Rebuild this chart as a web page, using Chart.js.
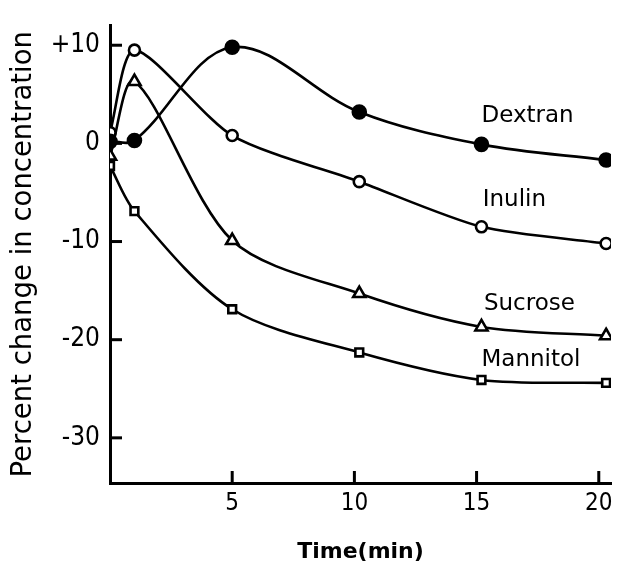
<!DOCTYPE html>
<html><head><meta charset="utf-8">
<script src="https://cdn.jsdelivr.net/npm/chart.js@4"></script>
<style>html,body{margin:0;padding:0;background:#fff}canvas{display:block}</style>
</head><body>
<canvas id="c" width="621" height="561"></canvas>
<script>
// Data
const times = [0, 1, 5, 10.2, 15.2, 20.3];
const dextran = [0.2, 0.3, 9.8, 3.2, -0.1, -1.7];
const inulin = [1.1, 9.5, 0.8, -3.9, -8.5, -10.2];
const sucrose = [-1.3, 6.3, -9.9, -15.3, -18.7, -19.6];
const mannitol = [-2.3, -6.9, -16.9, -21.3, -24.1, -24.4];
const seriesNames = ['Dextran', 'Inulin', 'Sucrose', 'Mannitol'];
const xTicks = [5, 10, 15, 20];
const yTicks = [10, 0, -10, -20, -30];

const FONT = "'DejaVu Sans Condensed', 'DejaVu Sans', sans-serif";
const toPts = arr => arr.map((v, i) => ({x: times[i], y: v}));

const styles = [
  {pointStyle: 'circle', fill: '#000', radius: 6.5, tension: 0.35},
  {pointStyle: 'circle', fill: '#fff', radius: 5.5, tension: 0.25},
  {pointStyle: 'triangle', fill: '#fff', radius: 7, tension: 0.3},
  {pointStyle: 'rect', fill: '#fff', radius: 5.5, tension: 0.3}
];
const seriesData = [dextran, inulin, sucrose, mannitol];

const datasets = seriesData.map((d, i) => ({
  label: seriesNames[i],
  data: toPts(d),
  borderColor: '#000',
  borderWidth: 2.6,
  tension: styles[i].tension,
  pointStyle: styles[i].pointStyle,
  pointRadius: styles[i].radius,
  pointBackgroundColor: styles[i].fill,
  pointBorderColor: '#000',
  pointBorderWidth: 2.6,
  fill: false
}));

const inwardTicks = {
  id: 'inwardTicks',
  beforeDatasetsDraw(chart, args, opts) {
    const {ctx, scales: {x, y}} = chart;
    ctx.save();
    ctx.strokeStyle = '#000';
    ctx.lineWidth = 3;
    y.ticks.forEach(t => {
      const py = y.getPixelForValue(t.value);
      ctx.beginPath(); ctx.moveTo(x.left, py); ctx.lineTo(x.left + opts.len, py); ctx.stroke();
    });
    x.ticks.forEach(t => {
      const px = x.getPixelForValue(t.value);
      ctx.beginPath(); ctx.moveTo(px, y.bottom); ctx.lineTo(px, y.bottom - opts.len); ctx.stroke();
    });
    ctx.restore();
  }
};

const seriesLabels = {
  id: 'seriesLabels',
  afterDatasetsDraw(chart, args, opts) {
    const {ctx, scales: {x, y}} = chart;
    ctx.save();
    ctx.font = opts.font;
    ctx.fillStyle = '#000';
    ctx.textAlign = 'left';
    ctx.textBaseline = 'middle';
    opts.anchors.forEach((a, i) => {
      ctx.fillText(seriesNames[i], x.getPixelForValue(a[0]), y.getPixelForValue(a[1]));
    });
    ctx.restore();
  }
};

new Chart(document.getElementById('c'), {
  type: 'line',
  data: {datasets},
  plugins: [inwardTicks, seriesLabels],
  options: {
    responsive: false,
    animation: false,
    devicePixelRatio: 1,
    layout: {padding: {top: 15, right: 10, left: 0, bottom: 0}},
    plugins: {
      legend: {display: false},
      tooltip: {enabled: false},
      inwardTicks: {len: 12},
      seriesLabels: {
        font: "23px 'DejaVu Sans', sans-serif",
        anchors: [[15.2, 2.8], [15.25, -5.8], [15.3, -16.4], [15.2, -22.1]]
      }
    },
    scales: {
      x: {
        type: 'linear', min: 0, max: 20.5,
        afterBuildTicks: s => { s.ticks = xTicks.map(v => ({value: v})); },
        afterFit: s => { s.height = 78; },
        grid: {display: false, drawTicks: false},
        border: {display: true, color: '#000', width: 3},
        ticks: {color: '#000', font: {family: FONT, size: 24}, padding: 6, maxRotation: 0, autoSkip: false},
        title: {display: true, text: 'Time(min)', color: '#000',
          font: {family: "'DejaVu Sans', sans-serif", weight: 'bold', size: 22, lineHeight: 0.8},
          padding: {top: 0, bottom: 0}}
      },
      y: {
        type: 'linear', min: -34.6, max: 12,
        afterBuildTicks: s => { s.ticks = yTicks.map(v => ({value: v})); },
        afterFit: s => { s.width = 110; },
        grid: {display: false, drawTicks: false},
        border: {display: true, color: '#000', width: 3},
        ticks: {color: '#000', font: {family: FONT, size: 26}, padding: 10, autoSkip: false,
          callback: v => v > 0 ? '+' + v : (v < 0 ? '-' + Math.abs(v) : '0')},
        title: {display: true, text: 'Percent change in concentration', color: '#000',
          font: {family: "'DejaVu Sans', sans-serif", size: 27.5}, padding: {top: 7, bottom: 0}}
      }
    }
  }
});
</script>
</body></html>
